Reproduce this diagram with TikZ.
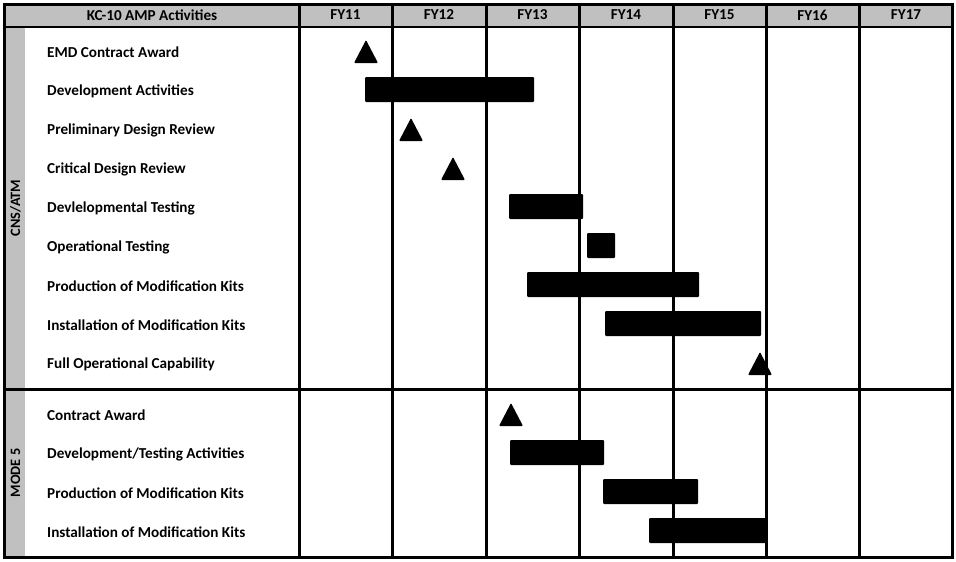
\documentclass[tikz,border=0pt]{standalone}
\usepackage{fontspec}
\setmainfont{Carlito}
\definecolor{headgray}{RGB}{192,192,192}

\tikzset{
  activity/.style={anchor=west, inner sep=0pt, font=\bfseries\fontsize{15.2}{17}\selectfont},
  headlabel/.style={inner sep=0pt, font=\bfseries\fontsize{15.2}{17}\selectfont},
  grouplabel/.style={rotate=90, inner sep=0pt, font=\bfseries\fontsize{14.3}{16}\selectfont},
  gridline/.style={line width=3pt},
  taskbar/.style={fill=black, rounded corners=1pt},
  milestone/.style={fill=black, rounded corners=1pt}
}

\begin{document}
\begin{tikzpicture}[x=1pt, y=-1pt]
      \useasboundingbox (0,0) rectangle (956,562);
      % gray header and group strip
      \fill[headgray] (4,4) rectangle (952,27);
      \fill[headgray] (4,27) rectangle (25,557);
      % grid
      \foreach \x in {299,392,486,579,673,766,859} {
        \draw[gridline] (\x,4) -- (\x,557);
      }
      \draw[line width=2.5pt] (4,27) -- (952,27);
      \draw[gridline] (4,389) -- (952,389);
      \draw[gridline] (4,4) rectangle (952,557);
      % header
      \node[headlabel] (title) at (152,15) {KC-10 AMP Activities};
      \foreach \n/\x in {11/345.5,12/439,13/532.5,14/626,15/719.5,16/812.5,17/906} {
        \node[headlabel] (fy\n) at (\x,15) {FY\n};
      }
      \node[grouplabel] (cns) at (15.5,208) {CNS/ATM};
      \node[grouplabel] (mode) at (15.5,473) {MODE 5};
      % activities
      \foreach \y/\txt [count=\i] in {52/EMD Contract Award, 91/Development Activities,
          130/Preliminary Design Review, 169/Critical Design Review,
          208/Devlelopmental Testing, 247/Operational Testing,
          286/Production of Modification Kits, 325/Installation of Modification Kits,
          364/Full Operational Capability, 415/Contract Award,
          454/{Development/Testing Activities}, 493/Production of Modification Kits,
          532/Installation of Modification Kits} {
        \node[activity] (act\i) at (47,\y) {\txt};
      }
      % bars
      \foreach \a/\b/\y in {365/534/91, 509/583/208, 587/615/247, 527/699/286,
          605/761/325, 510/604/454, 603/698/493, 649/767/532} {
        \path[taskbar] (\a,\y-14) rectangle (\b,\y+11);
      }
      % milestones
      \foreach \x/\y in {366/52, 411/130, 453/169, 760/364, 511/415} {
        \path[milestone] (\x-12,\y+11) -- (\x,\y-12) -- (\x+12,\y+11) -- cycle;
      }
\end{tikzpicture}
\end{document}
